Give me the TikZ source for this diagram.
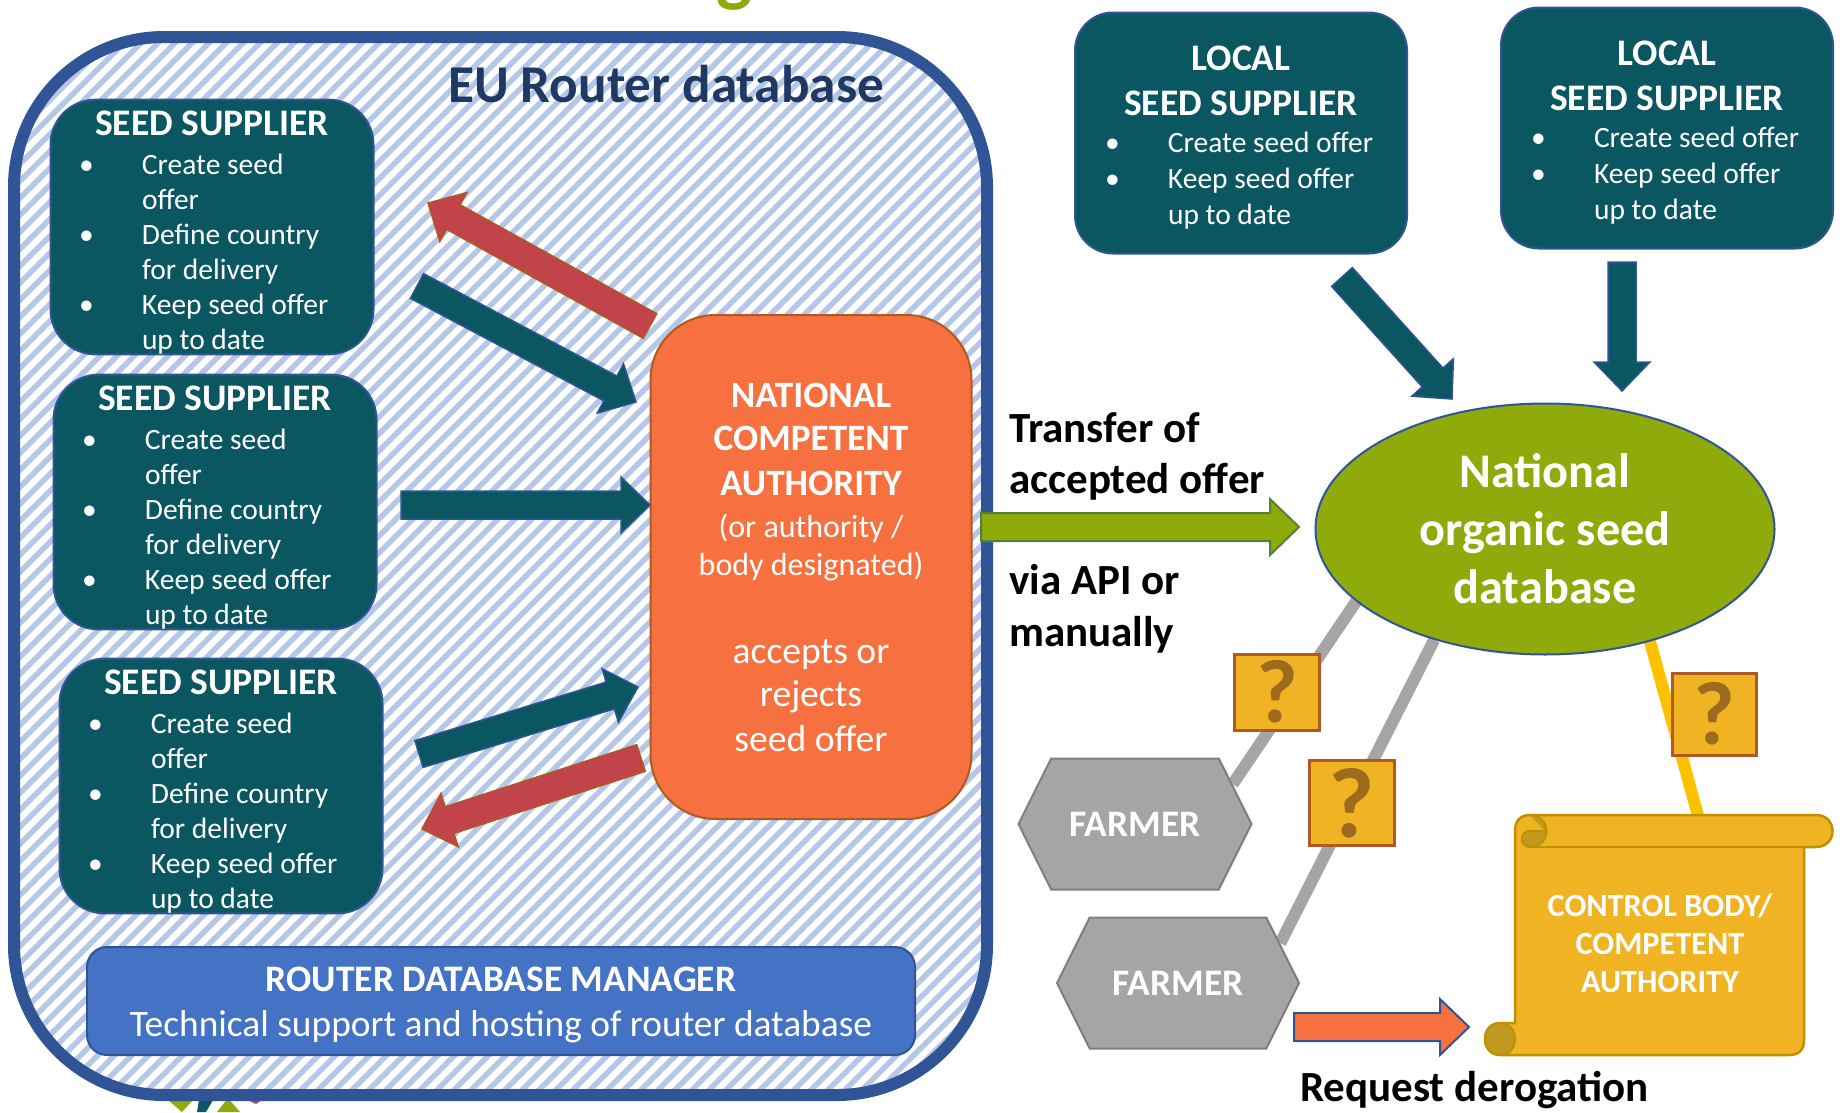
\documentclass[tikz,border=0pt]{standalone}
\usepackage{fontspec}
\setmainfont{Carlito}
\usetikzlibrary{calc, backgrounds, shapes.geometric, shapes.symbols}

\definecolor{frameblue}{HTML}{2F5597}
\definecolor{hatchblue}{HTML}{B4C7E7}
\definecolor{titleblue}{HTML}{1F3864}
\definecolor{seedteal}{HTML}{0A5661}
\definecolor{nationalorange}{HTML}{F7703F}
\definecolor{orangeedge}{HTML}{AE5A21}
\definecolor{rejectred}{HTML}{C0444A}
\definecolor{managerblue}{HTML}{4472C4}
\definecolor{dbgreen}{HTML}{8FAA0B}
\definecolor{greenedge}{HTML}{548235}
\definecolor{farmergray}{HTML}{A5A5A5}
\definecolor{farmeredge}{HTML}{7F7F7F}
\definecolor{scrollgold}{HTML}{EFB323}
\definecolor{scrolledge}{HTML}{BF9000}
\definecolor{scrolldark}{HTML}{C09A20}
\definecolor{askbrown}{HTML}{9C6B1E}
\definecolor{linkyellow}{HTML}{FFC000}

\newcommand{\offeritem}[1]{\mbox{\makebox[56pt][l]{\hspace*{-7pt}\textbullet}#1}}
\newcommand{\offercont}[1]{\mbox{\hspace*{56pt}#1}}
\newcommand{\boxtitle}[1]{\makebox[\hsize][c]{\fontsize{37.5}{40}\selectfont\bfseries #1}}
\newcommand{\subline}[1]{{\fontsize{32}{38}\selectfont #1}}
\newcommand{\boldline}[1]{{\fontsize{37.2}{40}\selectfont\bfseries #1}}
\newcommand{\longoffer}{\rule{0pt}{36pt}\boxtitle{SEED SUPPLIER}\\[4pt]\offeritem{Create seed}\\\offercont{offer}\\\offeritem{Define country}\\\offercont{for delivery}\\\offeritem{Keep seed offer}\\\offercont{up to date}}
\newcommand{\shortoffer}{\rule{0pt}{34pt}\boxtitle{LOCAL}\\[10pt]\boxtitle{SEED SUPPLIER}\\[2pt]\offeritem{Create seed offer}\\[1pt]\offeritem{Keep seed offer}\\[1pt]\offercont{up to date}}
\newcommand{\blockarrow}[3]{%
	\coordinate (hb) at ($ (#3)!29pt!(#2) $);
	\draw [#1] ($ (#2)!14pt!90:(#3) $) -- ($ (hb)!14pt!-90:(#2) $) -- ($ (hb)!28pt!-90:(#2) $) -- (#3)
		-- ($ (hb)!28pt!90:(#2) $) -- ($ (hb)!14pt!90:(#2) $) -- ($ (#2)!14pt!-90:(#3) $) -- cycle;}

\tikzset{
	supplier/.style = {draw = frameblue, line width = 2pt, fill = seedteal, text = white, rounded corners = 45pt, inner sep = 0pt, align = flush left, font = \fontsize{29.5}{35}\selectfont},
	shortsupplier/.style = {supplier, text width = 258pt, minimum width = 332pt, minimum height = 241pt, rounded corners = 38pt},
	longsupplier/.style = {supplier, text width = 252pt, minimum width = 323pt, minimum height = 252pt},
	blacklabel/.style = {anchor = base west, inner sep = 0pt, font = \fontsize{43}{44}\selectfont\bfseries},
	farmer/.style = {signal, signal to = east and west, signal pointer angle = 127, draw = farmeredge, line width = 2pt, fill = farmergray, text = white, minimum height = 131pt, inner sep = 0pt, font = \fontsize{37.4}{42}\selectfont\bfseries},
	askbox/.style = {draw = orangeedge, line width = 3pt, fill = scrollgold, text = askbrown, inner sep = 0pt, font = \fontsize{90}{100}\selectfont\bfseries},
	tealarrow/.style = {draw = frameblue, line width = 1.5pt, fill = seedteal},
	redarrow/.style = {draw = orangeedge, line width = 1.5pt, fill = rejectred},
	greenarrow/.style = {draw = greenedge, line width = 2pt, fill = dbgreen},
	orangearrow/.style = {draw = frameblue, line width = 2pt, fill = nationalorange},
	graylink/.style = {line width = 12pt, farmergray},
	yellowlink/.style = {line width = 12pt, linkyellow},
	hatch/.style = {line width = 5.5pt, hatchblue}
}

\begin{document}
\begin{tikzpicture}[x = 1pt, y = -1pt]
	\useasboundingbox (0,0) rectangle (1842,1112);

	\node [anchor = base, text = dbgreen, inner sep = 0pt, font = \fontsize{76}{80}\selectfont\bfseries] (cutoff) at (735,-3) {g};
	\fill [dbgreen] (168,1100) -- (193,1100) -- (182,1112) -- cycle;
	\fill [dbgreen] (217,1112) -- (228,1098) -- (240,1112) -- cycle;
	\fill [seedteal] (199,1100) -- (213,1100) -- (206,1112) -- (197,1112) -- cycle;
	\fill [rejectred] (247,1100) -- (262,1100) -- (256,1104) -- cycle;

	\begin{scope}
		\clip [rounded corners = 150pt] (14,37) rectangle (987,1095);
		\foreach \x in {-1200,-1183,...,1000}
			\draw [hatch] (\x,1112) -- ++(1112,-1112);
	\end{scope}
	\draw [frameblue, line width = 12pt, rounded corners = 150pt] (14,37) rectangle (987,1095);

	\node [text = titleblue, inner sep = 0pt, font = \fontsize{53.2}{58}\selectfont\bfseries] (router title) at (666,84) {EU Router database};

	\node [longsupplier] (supplier a) at (212,227) {\longoffer};
	\node [longsupplier] (supplier b) at (215,502) {\longoffer};
	\node [longsupplier] (supplier c) at (221,786) {\longoffer};

	\node [draw = orangeedge, line width = 2pt, fill = nationalorange, text = white, rounded corners = 65pt, minimum width = 321pt, minimum height = 504pt, inner sep = 0pt, align = flush center, font = \fontsize{37.6}{40}\selectfont] (authority) at (811,567) {\boldline{NATIONAL}\\[3pt]\boldline{COMPETENT}\\[5pt]\boldline{AUTHORITY}\\[2pt]\subline{(or authority /}\\[-2pt]\subline{body designated)}\\[48pt]accepts or\\[3pt]rejects\\[5pt]seed offer};

	\node [draw = frameblue, line width = 2pt, fill = managerblue, text = white, rounded corners = 20pt, text width = 800pt, minimum width = 828pt, minimum height = 108pt, inner sep = 0pt, align = flush center, font = \fontsize{37.4}{45}\selectfont] (manager) at (501,1001) {\rule{0pt}{33pt}\textbf{ROUTER DATABASE MANAGER}\\Technical support and hosting of router database};

	\node [shortsupplier] (local a) at (1241,133) {\shortoffer};
	\node [shortsupplier] (local b) at (1667,128) {\shortoffer};

	\node [ellipse, draw = frameblue, line width = 2pt, fill = dbgreen, text = white, minimum width = 459pt, minimum height = 251pt, inner sep = 0pt, align = flush center, font = \fontsize{48.3}{58}\selectfont\bfseries] (database) at (1545,529) {National\\organic seed\\database};

	\node [farmer, minimum width = 233pt] (farmer a) at (1135,824) {\raisebox{-4pt}{FARMER}};
	\node [farmer, minimum width = 242pt] (farmer b) at (1178,983) {\raisebox{-1pt}{FARMER}};

	\begin{scope}[on background layer]
		\draw [graylink] ($ (farmer a.north east)!0.4!(farmer a.east) $) -- (database.201);
		\draw [graylink] ($ (farmer b.north east)!0.4!(farmer b.east) $) -- (database.225);
		\coordinate (scroll top) at (1702,830);
		\draw [yellowlink] (database.-47) -- (scroll top);
	\end{scope}

	\node [askbox, minimum width = 85pt, minimum height = 76pt] (ask a) at (1277,692) {?};
	\node [askbox, minimum width = 85pt, minimum height = 85pt, font = \fontsize{100}{110}\selectfont\bfseries] (ask b) at (1352,803) {\raisebox{-2pt}{?}};
	\node [askbox, minimum width = 84pt, minimum height = 82pt] (ask c) at (1714,714) {?};

	\draw [draw = scrolledge, line width = 2.5pt, fill = scrollgold] (1530,815) -- (1816,815) .. controls (1838,815) and (1838,847) .. (1816,847) -- (1804,847) -- (1804,1040) .. controls (1804,1050) and (1799,1055) .. (1789,1055) -- (1500,1055) .. controls (1480,1055) and (1480,1023) .. (1500,1023) -- (1515,1023) -- (1515,831) .. controls (1515,821) and (1520,815) .. (1530,815) -- cycle;
	\draw [draw = scrolledge, line width = 2.5pt] (1530,847) -- (1816,847);
	\draw [draw = scrolledge, line width = 2pt, fill = scrolldark] (1530,815) .. controls (1552,815) and (1552,847) .. (1530,847) .. controls (1519,847) and (1519,831) .. (1530,831) -- (1545,831);
	\draw [draw = scrolledge, line width = 2pt, fill = scrolldark] (1500,1023) .. controls (1480,1023) and (1480,1055) .. (1500,1055) .. controls (1520,1055) and (1520,1023) .. (1500,1023) -- cycle;
	\node [text = white, inner sep = 0pt, align = flush center, font = \fontsize{32.3}{38}\selectfont\bfseries] (control body) at (1660,943) {CONTROL BODY/\\COMPETENT\\AUTHORITY};

	\coordinate (red a tail) at (650,326);
	\coordinate (red a tip) at (428,203);
	\coordinate (teal a tail) at (417,286);
	\coordinate (teal a tip) at (636,402);
	\coordinate (teal b tail) at (401,505);
	\coordinate (teal b tip) at (650,505);
	\coordinate (teal c tail) at (419,754);
	\coordinate (teal c tip) at (638,687);
	\coordinate (red c tail) at (641,758);
	\coordinate (red c tip) at (422,829);
	\coordinate (transfer tail) at (981,527);
	\coordinate (transfer tip) at (1299,527);
	\coordinate (local a tail) at (1342,277);
	\coordinate (local a tip) at (1452,399);
	\coordinate (local b tail) at (1622,262);
	\coordinate (local b tip) at (1622,391);
	\coordinate (request tail) at (1294,1027);
	\coordinate (request tip) at (1469,1027);

	\blockarrow{redarrow}{red a tail}{red a tip}
	\blockarrow{tealarrow}{teal a tail}{teal a tip}
	\blockarrow{tealarrow}{teal b tail}{teal b tip}
	\blockarrow{tealarrow}{teal c tail}{teal c tip}
	\blockarrow{redarrow}{red c tail}{red c tip}
	\blockarrow{greenarrow}{transfer tail}{transfer tip}
	\blockarrow{tealarrow}{local a tail}{local a tip}
	\blockarrow{tealarrow}{local b tail}{local b tip}
	\blockarrow{orangearrow}{request tail}{request tip}

	\node [blacklabel] (transfer a) at (1009,442) {Transfer of};
	\node [blacklabel] (transfer b) at (1009,493) {accepted offer};
	\node [blacklabel] (via a) at (1009,594) {via API or};
	\node [blacklabel] (via b) at (1009,646) {manually};
	\node [blacklabel] (request) at (1300,1101) {Request derogation};
\end{tikzpicture}
\end{document}
